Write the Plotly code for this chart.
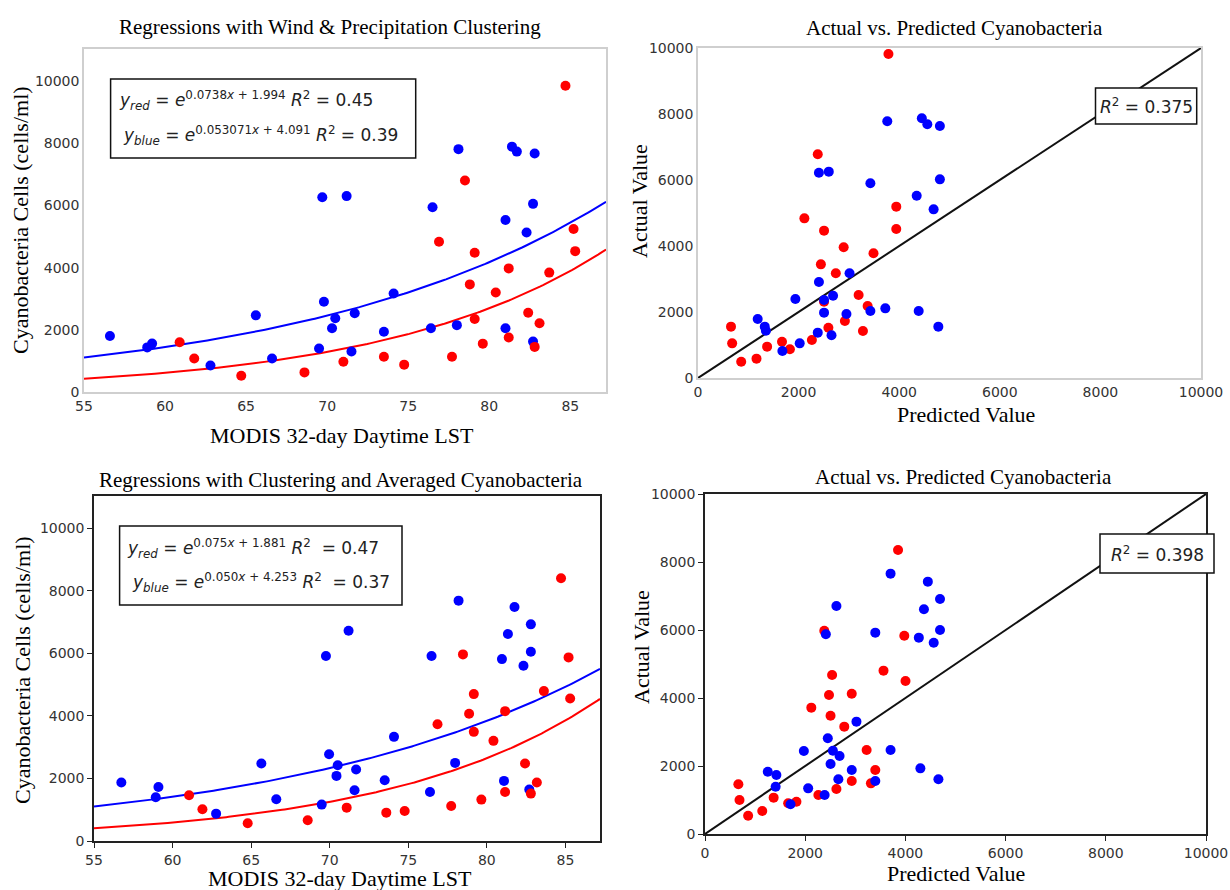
import numpy as np
import plotly.graph_objects as go

W, H = 1230, 890

# ---------------- data: top row (wind & precipitation clustering) ----------------
red1_lst = [60.9, 61.8, 64.7, 68.6, 71.0, 73.5, 74.75, 76.9, 77.7, 78.5, 78.8, 79.1,
            79.1, 79.6, 80.4, 81.2, 81.2, 82.4, 82.8, 83.1, 83.7, 84.7, 85.2, 85.3]
red1_cells = [1600, 1080, 525, 630, 975, 1135, 880, 4830, 1135, 6800, 3460, 4480,
              2350, 1555, 3200, 3975, 1750, 2550, 1450, 2210, 3840, 9850, 5240, 4530]
blue1_lst = [56.6, 58.9, 59.2, 62.8, 65.6, 66.6, 69.5, 69.7, 69.8, 70.3, 70.5, 71.2,
             71.5, 71.7, 73.5, 74.1, 76.4, 76.5, 78.0, 78.1, 81.0, 81.0, 81.4, 81.7,
             82.3, 82.7, 82.7, 82.8]
blue1_cells = [1800, 1434, 1556, 850, 2465, 1080, 1400, 6260, 2900, 2050, 2370, 6300,
               1300, 2530, 1940, 3170, 2050, 5940, 2150, 7810, 2050, 5530, 7890, 7730,
               5130, 1620, 6050, 7670]

red1_pred = [656, 679, 859, 1163, 1374, 1670, 1827, 2115, 2264, 2381, 2443, 2506,
             2506, 2592, 2740, 2896, 2920, 3193, 3279, 3372, 3489, 3786, 3942, 3942]
red1_actual = [1556, 1050, 495, 586, 950, 1100, 869, 4838, 1152, 6778, 3444, 4465,
               2313, 1525, 3172, 3960, 1727, 2515, 1424, 2182, 3778, 9818, 5192, 4515]
blue1_pred = [1187, 1327, 1350, 1678, 1936, 2022, 2381, 2404, 2404, 2506, 2506, 2600,
              2654, 2685, 2951, 3013, 3427, 3427, 3724, 3763, 4348, 4387, 4450, 4559,
              4684, 4778, 4809, 4809]
blue1_actual = [1788, 1556, 1434, 818, 2394, 1050, 1374, 2909, 6222, 2364, 1980, 6253,
                1293, 2495, 1939, 3172, 5899, 2030, 2111, 7778, 5525, 2030, 7869, 7687,
                5111, 1556, 6020, 7636]

# fitted exponential models shown in the legend boxes: y = exp(a*x + b)
red1_fit = (0.0738, 1.994)
blue1_fit = (0.053071, 4.091)
red1_eq = ("0.0738", "1.994", "0.45")
blue1_eq = ("0.053071", "4.091", "0.39")
r2_top = "0.375"

# ---------------- data: bottom row (clustering & averaged cyanobacteria) ----------------
red2_lst = [61.05, 61.9, 64.78, 68.6, 71.08, 73.6, 74.77, 76.86, 77.73, 78.48, 78.87, 79.17,
            79.17, 79.65, 80.42, 81.16, 81.16, 82.43, 82.8, 83.18, 83.63, 84.72, 85.2, 85.3]
red2_cells = [1462, 1014, 566, 662, 1067, 907, 961, 3735, 1121, 5966, 4066, 4696,
              3490, 1323, 3202, 4152, 1569, 2476, 1515, 1868, 4792, 8399, 5870, 4557]
blue2_lst = [56.74, 58.93, 59.1, 62.77, 65.65, 66.6, 69.49, 69.76, 69.96, 70.43, 70.51, 71.2,
             71.58, 71.68, 73.5, 74.09, 76.38, 76.48, 77.98, 78.2, 80.96, 81.09, 81.34, 81.76,
             82.33, 82.7, 82.8, 82.8]
blue2_cells = [1868, 1400, 1729, 875, 2476, 1334, 1163, 5912, 2775, 2081, 2423, 6724,
               1622, 2284, 1942, 3330, 1569, 5912, 2497, 7684, 5816, 1921, 6617, 7481,
               5603, 1644, 6051, 6926]

red2_pred = [666, 689, 861, 1143, 1370, 1660, 1825, 2122, 2263, 2381, 2475, 2506,
             2537, 2623, 2780, 2929, 2929, 3226, 3312, 3399, 3563, 3853, 3978, 4002]
red2_actual = [1461, 1000, 539, 676, 1069, 902, 951, 3716, 1147, 5980, 4088, 3480,
               4676, 1324, 3157, 4127, 1559, 2471, 1490, 1882, 4804, 8353, 5833, 4500]
blue2_pred = [1253, 1425, 1410, 1707, 1973, 2059, 2388, 2451, 2412, 2506, 2553, 2623,
              2662, 2686, 2929, 3023, 3399, 3399, 3704, 3704, 4268, 4299, 4370, 4448,
              4565, 4659, 4691, 4691]
blue2_actual = [1833, 1735, 1392, 873, 2441, 1343, 1147, 2814, 5873, 2059, 2451, 6706,
                1608, 2294, 1882, 3304, 5922, 1559, 2471, 7657, 5775, 1931, 6608, 7422,
                5627, 1608, 6000, 6912]

red2_fit = (0.075, 1.881)
blue2_fit = (0.050, 4.253)
red2_eq = ("0.075", "1.881", "0.47")
blue2_eq = ("0.050", "4.253", "0.37")
r2_bottom = "0.398"

# ---------------- axis settings ----------------
lst_range = [55, 87.2]
cells_range = [0, 11030]
lst_ticks = [55, 60, 65, 70, 75, 80, 85]
cells_ticks = [0, 2000, 4000, 6000, 8000, 10000]
pv_range = [0, 10000]
pv_ticks = [0, 2000, 4000, 6000, 8000, 10000]

titles = ["Regressions with Wind & Precipitation Clustering",
          "Actual vs. Predicted Cyanobacteria",
          "Regressions with Clustering and Averaged Cyanobacteria",
          "Actual vs. Predicted Cyanobacteria"]
lst_label = "MODIS 32-day Daytime LST"
cells_label = "Cyanobacteria Cells (cells/ml)"
pred_label = "Predicted Value"
act_label = "Actual Value"

RED = "#ff0000"
BLUE = "#0000ff"
SERIF = "Liberation Serif, Times New Roman, serif"
SANS = "DejaVu Sans, sans-serif"


def px(x0, x1):
    return [x0 / W, x1 / W]


def py(y0, y1):
    # pixel rows (top, bottom) -> paper domain
    return [1 - y1 / H, 1 - y0 / H]


fig = go.Figure()


def scatter(x, y, color, xa, ya):
    fig.add_trace(go.Scatter(x=x, y=y, mode="markers", xaxis=xa, yaxis=ya,
                             marker=dict(color=color, size=10, line=dict(width=0)),
                             showlegend=False, hoverinfo="x+y"))


def curve(fit, color, xa, ya):
    xs = np.linspace(lst_range[0], lst_range[1], 200)
    ys = np.exp(fit[0] * xs + fit[1])
    fig.add_trace(go.Scatter(x=xs, y=ys, mode="lines", xaxis=xa, yaxis=ya,
                             line=dict(color=color, width=2), showlegend=False,
                             hoverinfo="skip"))


def diag(xa, ya):
    fig.add_trace(go.Scatter(x=pv_range, y=pv_range, mode="lines", xaxis=xa, yaxis=ya,
                             line=dict(color="#111111", width=2), showlegend=False,
                             hoverinfo="skip"))


# panel 1
curve(blue1_fit, BLUE, "x", "y")
curve(red1_fit, RED, "x", "y")
scatter(blue1_lst, blue1_cells, BLUE, "x", "y")
scatter(red1_lst, red1_cells, RED, "x", "y")
# panel 2
diag("x2", "y2")
scatter(red1_pred, red1_actual, RED, "x2", "y2")
scatter(blue1_pred, blue1_actual, BLUE, "x2", "y2")
# panel 3
curve(blue2_fit, BLUE, "x3", "y3")
curve(red2_fit, RED, "x3", "y3")
scatter(blue2_lst, blue2_cells, BLUE, "x3", "y3")
scatter(red2_lst, red2_cells, RED, "x3", "y3")
# panel 4
diag("x4", "y4")
scatter(red2_pred, red2_actual, RED, "x4", "y4")
scatter(blue2_pred, blue2_actual, BLUE, "x4", "y4")

tickfont = dict(family=SANS, size=14, color="#333333")


def common(domain, rng, ticks, anchor):
    return dict(domain=domain, range=rng, tickvals=ticks, ticktext=[str(t) for t in ticks],
                anchor=anchor, showgrid=False, zeroline=False, showline=True, mirror=True,
                linewidth=1.5, tickfont=tickfont, automargin=False)


def ax_top(domain, rng, ticks, anchor):
    d = common(domain, rng, ticks, anchor)
    d.update(ticks="", linecolor="#cfcfcf")
    return d


def ax_bot(domain, rng, ticks, anchor):
    d = common(domain, rng, ticks, anchor)
    d.update(ticks="outside", ticklen=5, tickwidth=1.2, tickcolor="#222222",
             linecolor="#222222")
    return d


fig.update_layout(
    width=W, height=H, margin=dict(l=0, r=0, t=0, b=0),
    paper_bgcolor="white", plot_bgcolor="white",
    xaxis=ax_top(px(84, 606), lst_range, lst_ticks, "y"),
    yaxis=ax_top(py(49, 392), cells_range, cells_ticks, "x"),
    xaxis2=ax_top(px(698, 1201), pv_range, pv_ticks, "y2"),
    yaxis2=ax_top(py(48, 378), pv_range, pv_ticks, "x2"),
    xaxis3=ax_bot(px(94, 600), lst_range, lst_ticks, "y3"),
    yaxis3=ax_bot(py(496, 841), cells_range, cells_ticks, "x3"),
    xaxis4=ax_bot(px(705, 1206), pv_range, pv_ticks, "y4"),
    yaxis4=ax_bot(py(494, 834), pv_range, pv_ticks, "x4"),
)

ann = []
shapes = []


def text(x, y, s, size, family=SERIF, angle=0, xanchor="center", color="black"):
    ann.append(dict(x=x / W, y=1 - y / H, xref="paper", yref="paper", text=s,
                    showarrow=False, xanchor=xanchor, yanchor="middle", textangle=angle,
                    font=dict(family=family, size=size, color=color)))


def box(x0, y0, x1, y1):
    shapes.append(dict(type="rect", xref="paper", yref="paper",
                       x0=x0 / W, x1=x1 / W, y0=1 - y1 / H, y1=1 - y0 / H,
                       line=dict(color="#111111", width=1.5), fillcolor="white",
                       layer="above"))


# titles
text(330, 27, titles[0], 21)
text(955, 28, titles[1], 21)
text(341, 480, titles[2], 21)
text(963, 477, titles[3], 21)
# axis labels
text(21, 220, cells_label, 22, angle=-90)
text(342, 435, lst_label, 22)
text(639, 201, act_label, 22, angle=-90)
text(966, 415, pred_label, 22)
text(22, 670, cells_label, 22, angle=-90)
text(340, 878, lst_label, 22)
text(641, 647, act_label, 22, angle=-90)
text(956, 873, pred_label, 22)


def eq(name, e, pad=" "):
    a, b, r2 = e
    return ("<i>y</i><sub><i>%s</i></sub> = <i>e</i><sup>%s<i>x</i> + %s</sup> "
            "<i>R</i><sup>2</sup>%s= %s" % (name, a, b, pad, r2))


def r2(v):
    return "<i>R</i><sup>2</sup> = %s" % v


# equation boxes
box(110.6, 79, 415.7, 158)
text(117, 101, eq("red", red1_eq), 17, family=SANS, xanchor="left", color="#222")
text(121, 135, eq("blue", blue1_eq), 17, family=SANS, xanchor="left", color="#222")
box(1095.5, 88, 1196.7, 124)
text(1146, 106, r2(r2_top), 17, family=SANS, color="#222")
box(119.6, 526, 402, 605)
text(125, 548, eq("red", red2_eq, "  "), 17, family=SANS, xanchor="left", color="#222")
text(130, 582, eq("blue", blue2_eq, "  "), 17, family=SANS, xanchor="left", color="#222")
box(1100, 534, 1214, 573)
text(1157, 554, r2(r2_bottom), 17, family=SANS, color="#222")

fig.update_layout(annotations=ann, shapes=shapes)
fig.write_html("out.html")
